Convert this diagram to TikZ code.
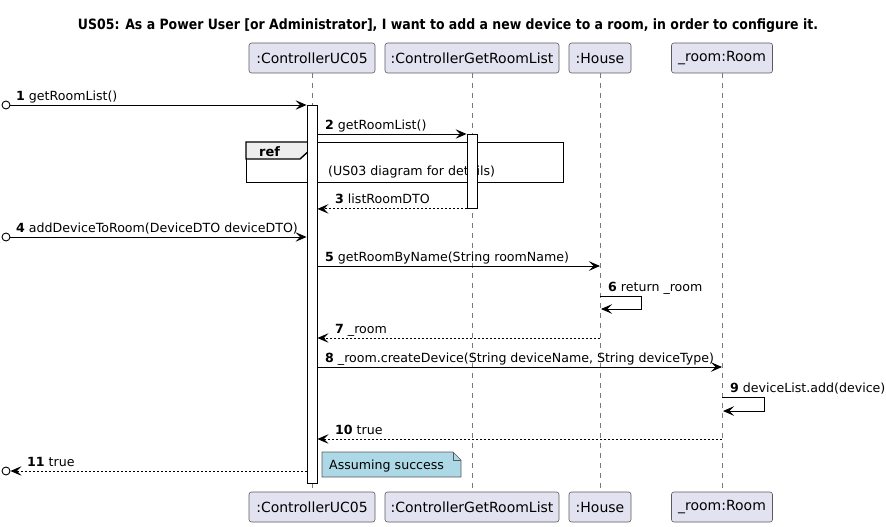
\documentclass[tikz,border=0pt]{standalone}
\usepackage{fontspec}
\usepackage{graphicx}
\setmainfont{DejaVu Sans}
\usetikzlibrary{arrows.meta}
\definecolor{partfill}{HTML}{E2E2F0}
\definecolor{partdraw}{HTML}{5A5A5A}
\definecolor{notefill}{HTML}{ADD8E6}
\definecolor{reffill}{HTML}{EEEEEE}
\definecolor{lifecol}{HTML}{7A7A7A}
\begin{document}
\begin{tikzpicture}[x=1pt,y=-1pt,
  part/.style={draw=partdraw, fill=partfill, rounded corners=2.5pt, line width=0.6pt, minimum height=30pt, inner sep=0pt, font=\fontsize{14}{16}\selectfont},
  life/.style={draw=lifecol, dash pattern=on 5pt off 5pt, line width=0.7pt},
  act/.style={draw=black, fill=white, line width=0.9pt, inner sep=0pt, minimum width=10pt},
  msg/.style={draw=black, line width=0.9pt, -{Stealth[length=11pt,width=9.5pt,inset=4.5pt]}},
  ret/.style={msg, dash pattern=on 2pt off 2pt},
  lbl/.style={anchor=base west, inner sep=0pt, font=\fontsize{12.6}{14}\selectfont},
  startc/.style={circle, draw=black, line width=0.9pt, fill=white, minimum size=8pt, inner sep=0pt},
  notebox/.style={draw=partdraw, fill=notefill, line width=0.6pt},
  refframe/.style={draw=black, line width=1.4pt}
]
\useasboundingbox (0,0) rectangle (886,527);

% title
\node[anchor=base, inner sep=0pt] (title) at (448,30) {\resizebox{740pt}{\height}{\bfseries\fontsize{14.2}{16}\selectfont US05: As a Power User [or Administrator], I want to add a new device to a room, in order to configure it.}};

% participants
\node[part, minimum width=126pt] (pA) at (312,58) {:ControllerUC05};
\node[part, minimum width=174pt] (pB) at (472,58) {:ControllerGetRoomList};
\node[part, minimum width=62pt]  (pC) at (600,58) {:House};
\node[part, minimum width=101pt] (pD) at (722,58) {\_room:Room};
\node[part, minimum width=126pt] (qA) at (312,507) {:ControllerUC05};
\node[part, minimum width=174pt] (qB) at (472,507) {:ControllerGetRoomList};
\node[part, minimum width=62pt]  (qC) at (600,507) {:House};
\node[part, minimum width=101pt] (qD) at (722,507) {\_room:Room};

% lifelines
\draw[life] (pA.south) -- (qA.north);
\draw[life] (pB.south) -- (qB.north);
\draw[life] (pC.south) -- (qC.north);
\draw[life] (pD.south) -- (qD.north);

% ref frame
\node[refframe, minimum width=317pt, minimum height=40pt, inner sep=0pt, anchor=north west] (ref) at (246,142) {};
\draw[refframe, fill=reffill] (ref.north west) -- (310,142) -- (310,150) -- (300,159) -- (246,159) -- cycle;
\node[anchor=base west, inner sep=0pt, font=\bfseries\fontsize{13}{14}\selectfont] (reflbl) at (259,156) {ref};
\node[anchor=base west, inner sep=0pt, font=\fontsize{12.6}{14}\selectfont] (reftxt) at (328,175) {(US03 diagram for details)};

% activation bars
\node[act, anchor=north, minimum height=378pt] (actA) at (312,105) {};
\node[act, anchor=north, minimum height=74pt] (actB) at (472,134) {};

% 1
\node[startc] (c1) at (6,105) {};
\draw[msg] (c1.east) -- (actA.west |- c1);
\node[lbl] (l1) at (16,100.5) {\textbf{1} getRoomList()};
% 2
\draw[msg] (actA.east |- actB.north) -- (actB.north west);
\node[lbl] (l2) at (325,129.5) {\textbf{2} getRoomList()};
% 3
\draw[ret] (actB.south west) -- (actA.east |- actB.south);
\node[lbl] (l3) at (335,203.5) {\textbf{3} listRoomDTO};
% 4
\node[startc] (c4) at (6,237) {};
\draw[msg] (c4.east) -- (actA.west |- c4);
\node[lbl] (l4) at (16,232.5) {\textbf{4} addDeviceToRoom(DeviceDTO deviceDTO)};
% 5
\coordinate (m5) at (600,266);
\draw[msg] (actA.east |- m5) -- (m5);
\node[lbl] (l5) at (325,261.5) {\textbf{5} getRoomByName(String roomName)};
% 6
\coordinate (m6a) at (600,296);
\coordinate (m6b) at (641,296);
\coordinate (m6c) at (641,309);
\coordinate (m6d) at (601,309);
\draw[msg] (m6a) -- (m6b) -- (m6c) -- (m6d);
\node[lbl] (l6) at (608,291.5) {\textbf{6} return \_room};
% 7
\coordinate (m7) at (600,338);
\draw[ret] (m7) -- (actA.east |- m7);
\node[lbl] (l7) at (335,333.5) {\textbf{7} \_room};
% 8
\coordinate (m8) at (722,367);
\draw[msg] (actA.east |- m8) -- (m8);
\node[lbl] (l8) at (325,362.5) {\textbf{8} \_room.createDevice(String deviceName, String deviceType)};
% 9
\coordinate (m9a) at (722,397);
\coordinate (m9b) at (764,397);
\coordinate (m9c) at (764,411);
\coordinate (m9d) at (723,411);
\draw[msg] (m9a) -- (m9b) -- (m9c) -- (m9d);
\node[lbl] (l9) at (730,392.5) {\textbf{9} deviceList.add(device)};
% 10
\coordinate (m10) at (722,439);
\draw[ret] (m10) -- (actA.east |- m10);
\node[lbl] (l10) at (335,434.5) {\textbf{10} true};
% 11
\node[startc] (c11) at (6,471) {};
\draw[ret] (actA.west |- c11) -- (c11.east);
\node[lbl] (l11) at (27,466.5) {\textbf{11} true};

% note
\draw[notebox] (322,452) -- (453,452) -- (461,460) -- (461,477) -- (322,477) -- cycle;
\draw[draw=partdraw, line width=0.6pt] (453,452) -- (453,460) -- (461,460);
\node[lbl] (note) at (329,469) {Assuming success};

\end{tikzpicture}
\end{document}
